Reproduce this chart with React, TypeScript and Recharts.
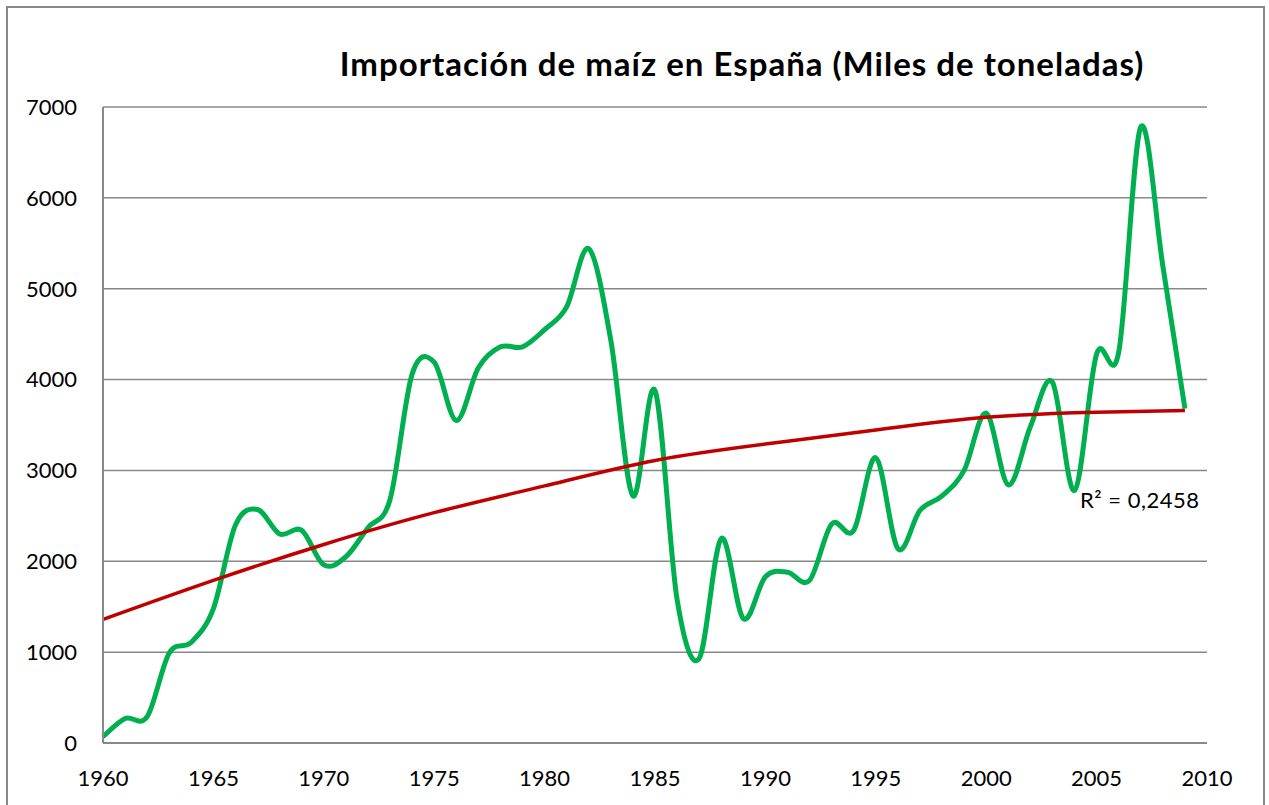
import { LineChart, Line, XAxis, YAxis, CartesianGrid } from 'recharts'

const years = [
  1960, 1961, 1962, 1963, 1964, 1965, 1966, 1967, 1968, 1969,
  1970, 1971, 1972, 1973, 1974, 1975, 1976, 1977, 1978, 1979,
  1980, 1981, 1982, 1983, 1984, 1985, 1986, 1987, 1988, 1989,
  1990, 1991, 1992, 1993, 1994, 1995, 1996, 1997, 1998, 1999,
  2000, 2001, 2002, 2003, 2004, 2005, 2006, 2007, 2008, 2009,
]

// miles de toneladas
const imports = [
  70, 270, 290, 990, 1110, 1480, 2400, 2570, 2300, 2340,
  1960, 2050, 2370, 2680, 4060, 4190, 3550, 4130, 4360, 4360,
  4550, 4800, 5440, 4430, 2720, 3880, 1580, 930, 2250, 1370,
  1830, 1880, 1790, 2410, 2340, 3140, 2140, 2560, 2720, 3000,
  3630, 2840, 3480, 3970, 2780, 4280, 4300, 6780, 5250, 3680,
]

// polynomial trend line (R² = 0,2458)
const trendYears = [1960, 1965, 1970, 1975, 1980, 1985, 1990, 1995, 2000, 2005, 2009]
const trendValues = [1360, 1790, 2185, 2535, 2830, 3110, 3290, 3445, 3585, 3640, 3660]

const xTicks = [1960, 1965, 1970, 1975, 1980, 1985, 1990, 1995, 2000, 2005, 2010]
const yTicks = [0, 1000, 2000, 3000, 4000, 5000, 6000, 7000]

const data = years.map((year, i) => {
  const t = trendYears.indexOf(year)
  return { year, imports: imports[i], trend: t >= 0 ? trendValues[t] : null }
})

// Excel-like smoothed line (Catmull-Rom through every point)
const excelSmooth = (context: any) => {
  let pts: number[][] = []
  return {
    areaStart() {},
    areaEnd() {},
    lineStart() {
      pts = []
    },
    lineEnd() {
      if (!pts.length) return
      context.moveTo(pts[0][0], pts[0][1])
      for (let i = 0; i < pts.length - 1; i++) {
        const p0 = pts[i - 1] || pts[i]
        const p1 = pts[i]
        const p2 = pts[i + 1]
        const p3 = pts[i + 2] || p2
        context.bezierCurveTo(
          p1[0] + (p2[0] - p0[0]) / 6,
          p1[1] + (p2[1] - p0[1]) / 6,
          p2[0] - (p3[0] - p1[0]) / 6,
          p2[1] - (p3[1] - p1[1]) / 6,
          p2[0],
          p2[1]
        )
      }
    },
    point(x: number, y: number) {
      pts.push([+x, +y])
    },
  }
}

const font = 'Lato, "Open Sans", sans-serif'
const gray = '#888888'

export default function App() {
  return (
    <div style={{ position: 'relative', width: 1269, height: 805, overflow: 'hidden', background: '#fff' }}>
      <style>{'body{margin:0;overflow:hidden}'}</style>
      <div
        style={{
          position: 'absolute',
          left: 6,
          top: 6,
          width: 1255,
          height: 820,
          border: `2px solid ${gray}`,
        }}
      />
      <div style={{ position: 'absolute', left: 0, top: 0 }}>
        <LineChart
          width={1269}
          height={805}
          data={data}
          margin={{ top: 107, right: 62, bottom: 12, left: 43 }}
        >
          <CartesianGrid vertical={false} stroke={gray} strokeWidth={1.5} />
          <XAxis
            dataKey='year'
            type='number'
            domain={[1960, 2010]}
            ticks={xTicks}
            height={50}
            tickLine={false}
            tickSize={0}
            tickMargin={27}
            axisLine={{ stroke: gray, strokeWidth: 2 }}
            tick={{ fill: '#000', fontSize: 22, fontFamily: font }}
            interval={0}
          />
          <YAxis
            type='number'
            domain={[0, 7000]}
            ticks={yTicks}
            width={60}
            tickLine={false}
            tickSize={0}
            tickMargin={26}
            axisLine={{ stroke: gray, strokeWidth: 2 }}
            tick={{ fill: '#000', fontSize: 22, fontFamily: font }}
            interval={0}
          />
          <Line
            dataKey='imports'
            type={excelSmooth as any}
            stroke='#00B050'
            strokeWidth={5}
            dot={false}
            activeDot={false}
            isAnimationActive={false}
          />
          <Line
            dataKey='trend'
            type='natural'
            stroke='#C00000'
            strokeWidth={3.5}
            dot={false}
            activeDot={false}
            connectNulls
            isAnimationActive={false}
          />
        </LineChart>
      </div>
      <svg width={1269} height={805} style={{ position: 'absolute', left: 0, top: 0, pointerEvents: 'none' }}>
        <text
          x={742}
          y={76}
          textAnchor='middle'
          fontFamily={font}
          fontWeight='bold'
          fontSize={33}
          letterSpacing={1}
          fill='#000'
        >
          Importación de maíz en España (Miles de toneladas)
        </text>
        <text x={1080} y={508} fontFamily={font} fontSize={22} letterSpacing={0.5} fill='#000'>
          R² = 0,2458
        </text>
      </svg>
    </div>
  )
}
